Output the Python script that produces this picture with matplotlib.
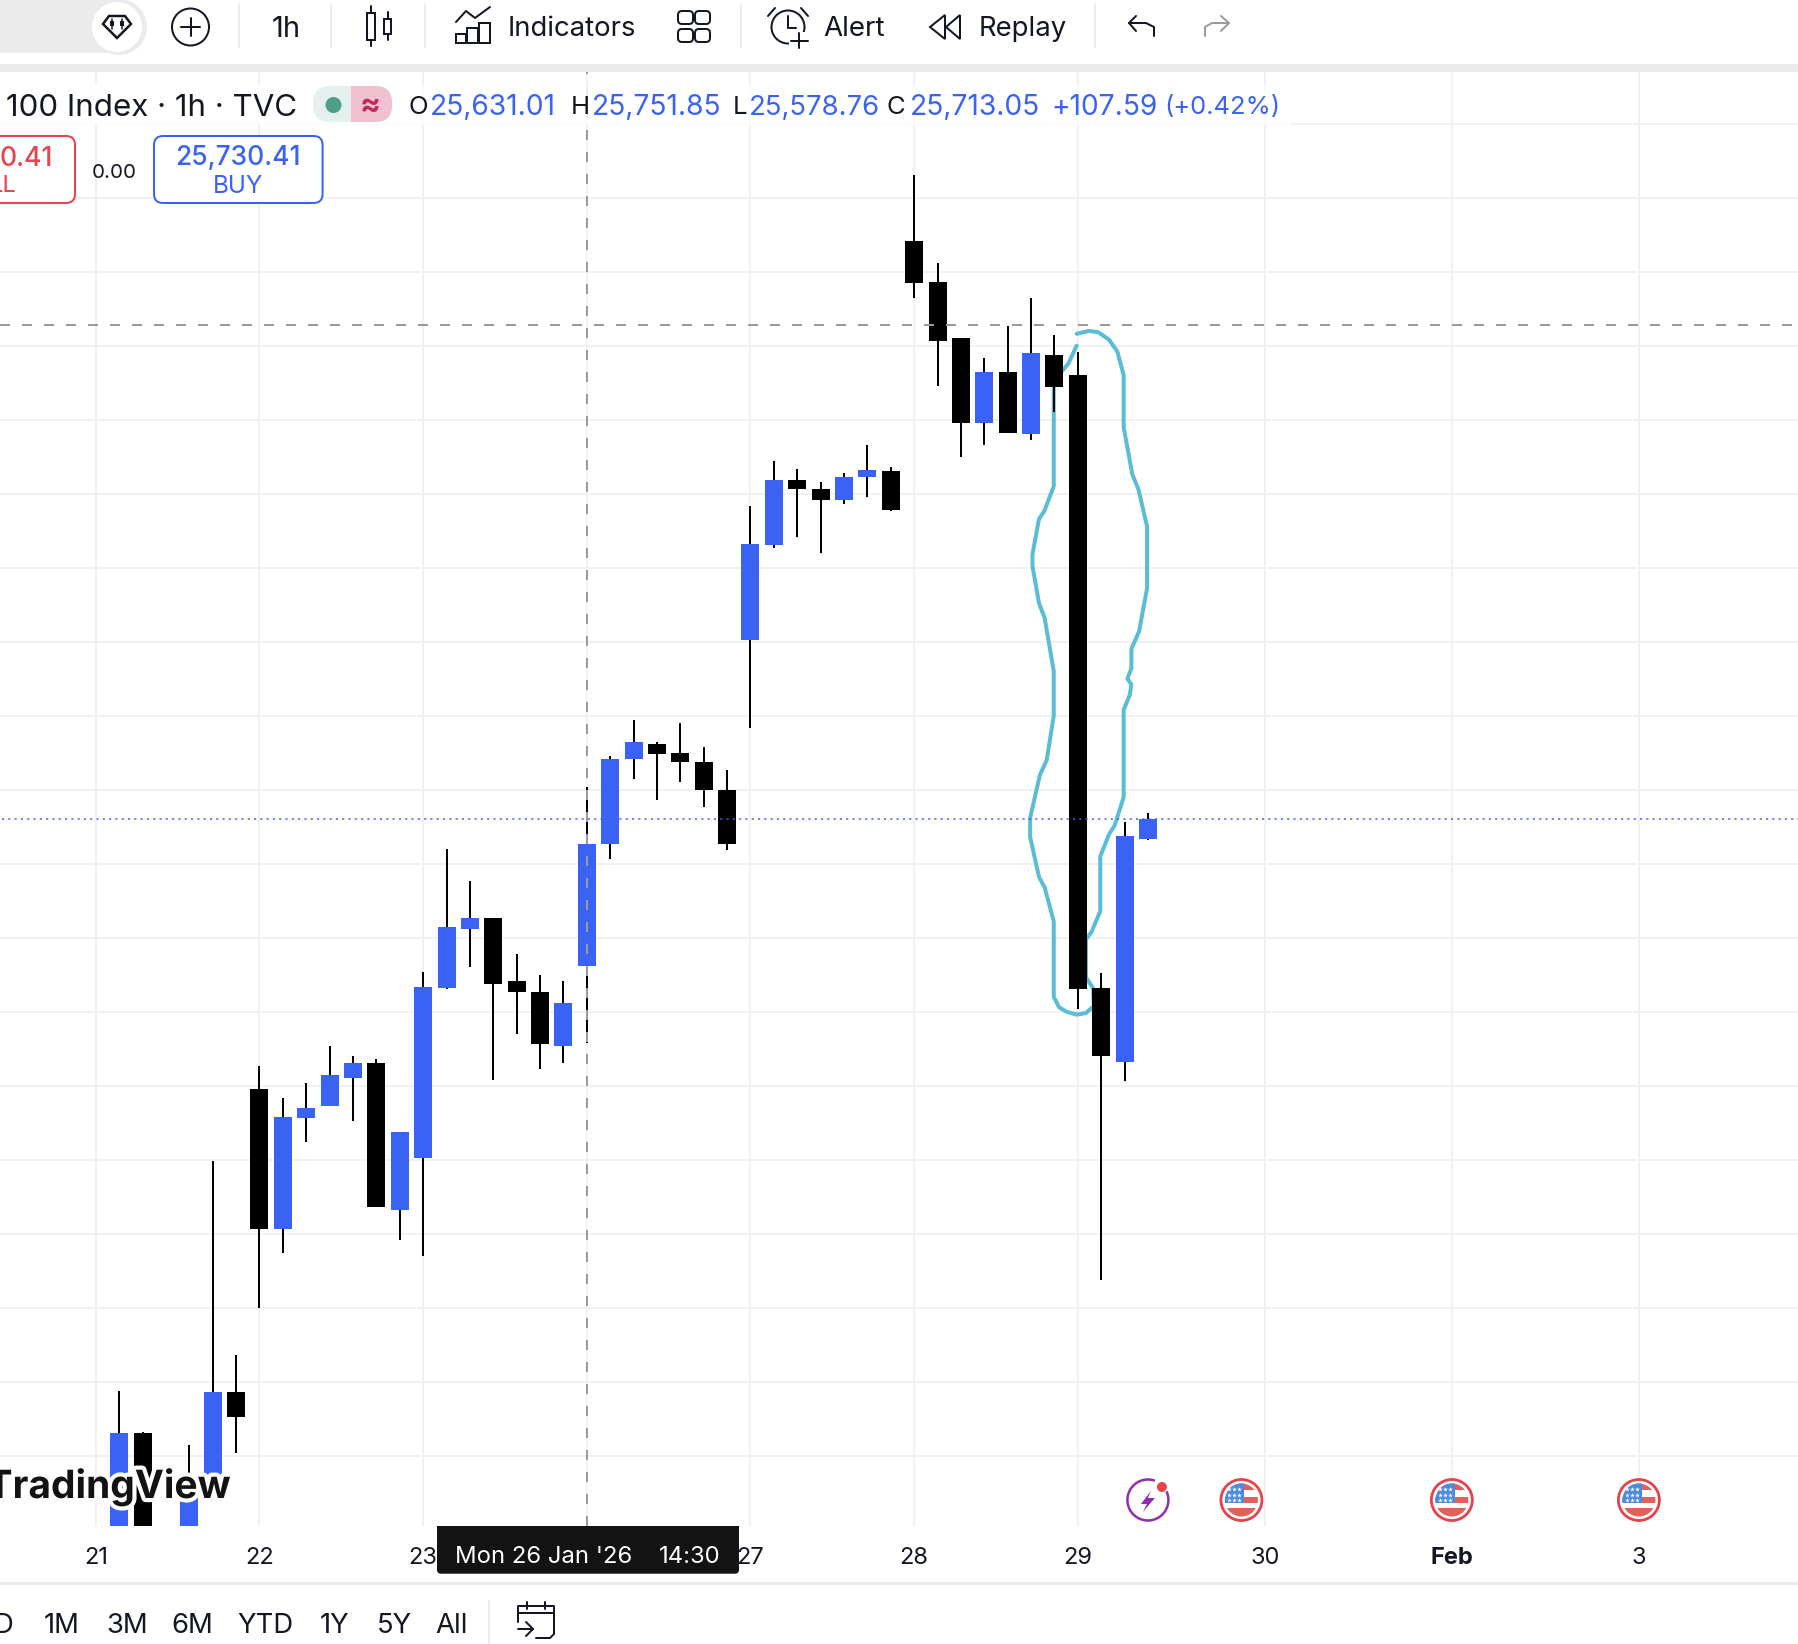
import matplotlib
matplotlib.use("Agg")
import matplotlib.pyplot as plt
import matplotlib.patheffects as pe
from matplotlib.patches import Circle, FancyBboxPatch, Rectangle, Polygon, Arc

plt.rcParams['font.family'] = ['Inter', 'DejaVu Sans']

# candles: bar number, open, high, low, close  (21 Jan is bar 0)
bars = [1, 2, 4, 5, 6, 7, 8, 9, 10, 11, 12, 13, 14, 15, 16, 17, 18, 19, 20, 21, 22, 23,
        24, 25, 26, 27, 28, 29, 30, 31, 32, 33, 34, 35, 36, 37, 38, 39, 40, 41, 42, 43, 44, 45]
opens = [25240, 25315, 25240, 25277, 25343, 25548, 25453, 25528, 25536, 25555, 25565, 25466, 25501, 25616,
         25656, 25663, 25621, 25613, 25577, 25631.01, 25713, 25771, 25781, 25775, 25769, 25750, 25851, 25915,
         25959, 25953, 25946, 25961, 25965, 26121, 26093, 26055, 25998, 26032, 25990, 26044, 26030, 25616,
         25566, 25717]
highs = [25344, 25316, 25307, 25499, 25368, 25563, 25542, 25552, 25577, 25570, 25568, 25519, 25627, 25710,
         25688, 25663, 25639, 25625, 25621, 25751.85, 25773, 25797, 25782, 25795, 25779, 25763, 25942, 25972,
         25967, 25958, 25964, 25983, 25968, 26165, 26106, 26055, 26042, 26063, 26082, 26057, 26046, 25626,
         25728, 25734]
lows = [25230, 25230, 25235, 25277, 25302, 25400, 25437, 25512, 25536, 25526, 25468, 25446, 25435, 25615,
        25630, 25554, 25585, 25561, 25565, 25578.76, 25703, 25757, 25743, 25755, 25738, 25709, 25792, 25913,
        25921, 25910, 25943, 25948, 25938, 26082, 26023, 25975, 25983, 25991, 25986, 26005, 25602, 25419,
        25553, 25716]
closes = [25315, 25240, 25277, 25343, 25326, 25453, 25529, 25535, 25557, 25565, 25468, 25519, 25617, 25657,
          25663, 25619, 25613, 25578, 25606, 25713.05, 25771, 25782, 25774, 25769, 25750, 25713, 25916, 25959,
          25953, 25946, 25961, 25966, 25939, 26092, 26053, 25998, 26032, 25991, 26045, 26022, 25615, 25570,
          25719, 25730.41]

day_bars = [0, 7, 14, 21, 28, 35, 42, 50, 58, 66]
day_labels = ['21', '22', '23', '26', '27', '28', '29', '30', 'Feb', '3']
price_grid = list(range(25300, 26250, 50))

last_price = 25730.41
cross_price = 26064
cross_bar = 21

# hand drawn loop round the big candle
loop_bar = [41.95, 42.48, 42.88, 43.34, 43.69, 43.96, 43.96, 44.33, 44.59, 44.96, 44.96, 44.62, 44.29, 44.29,
            44.12, 44.29, 44.22, 43.96, 43.96, 43.58, 43.34, 42.96, 42.96, 42.59, 42.35, 42.35, 42.65, 42.69,
            42.34, 41.94, 41.51, 41.20, 40.97, 40.97, 40.58, 40.34, 39.96, 39.96, 40.38, 40.67, 40.97, 40.97,
            40.58, 40.34, 40.06, 40.06, 40.34, 40.56, 40.97, 40.97, 41.34, 41.60, 41.95]
loop_price = [26058, 26060, 26059, 26054, 26046, 26030, 25995, 25963, 25953, 25928, 25886, 25857, 25845, 25832,
              25825, 25821, 25814, 25804, 25745, 25726, 25720, 25705, 25668, 25654, 25649, 25623, 25616, 25604,
              25599, 25598, 25600, 25603, 25610, 25661, 25684, 25691, 25718, 25731, 25760, 25770, 25800, 25830,
              25866, 25876, 25901, 25909, 25933, 25938, 25955, 26027, 26033, 26038, 26050]

range_labels = ['D', '1M', '3M', '6M', 'YTD', '1Y', '5Y', 'All']
range_x = [4, 62, 127, 192, 265, 335, 394, 452]
flag_bars = [49, 58, 66]

W, H = 1798, 1644
BLUE = '#3a63f6'
RED = '#e8434f'
px = 0.72  # one pixel in points at dpi 100

fig = plt.figure(figsize=(W / 100, H / 100), dpi=100, facecolor='white')

# chart pane
ax = fig.add_axes([0, (H - 1526) / H, 1, (1526 - 72) / H])
ax.set_xlim(-4.097, 72.8)
ax.set_ylim(25252.5, 26234.9)
for s in ax.spines.values():
    s.set_visible(False)
ax.set_xticks(day_bars)
ax.set_xticklabels(day_labels, fontsize=17, color='#131722')
ax.get_xticklabels()[8].set_fontweight('bold')
ax.set_yticks(price_grid)
ax.set_yticklabels([])
ax.tick_params(length=0)
ax.tick_params(axis='x', pad=15.2)
ax.grid(True, color='#f1f1f1', lw=2 * px)
ax.set_axisbelow(True)

ax.plot(loop_bar, loop_price, color='#5bbcd6', lw=4 * px, zorder=2, solid_joinstyle='round', solid_capstyle='round')

for b, o, h, l, c in zip(bars, opens, highs, lows, closes):
    col = BLUE if c >= o else 'black'
    ax.vlines(b, l, h, color='black', lw=2 * px, zorder=3)
    ax.bar(b, abs(c - o), bottom=min(o, c), width=0.77, color=col, zorder=4)

ax.axhline(last_price, xmin=0.001, color=BLUE, lw=1.5 * px, ls=(0, (1.4, 2.8)), zorder=6)
ax.axhline(cross_price, color='#9b9b9b', lw=2 * px, ls=(0, (5, 6)), zorder=5)
ax.axvline(cross_bar, color='#9b9b9b', lw=2 * px, ls=(0, (5, 6)), zorder=5)

# toolbar, legend and the rest of the interface, in picture pixels
ui = fig.add_axes([0, 0, 1, 1], zorder=5)
ui.set_xlim(0, W)
ui.set_ylim(H, 0)
ui.axis('off')


def bar_x(i):
    return 95.8 + 23.38 * i


def txt(x, y, s, size=18, color='#131722', ha='left', **kw):
    return ui.text(x, y + 2.5, s, fontsize=size, color=color, ha=ha, va='center', **kw)


def ln(xs, ys, color='#131722', lw=2.0):
    ui.plot(xs, ys, color=color, lw=lw * px, solid_capstyle='round', solid_joinstyle='round')


def box(x, y, w, h, r=8, fc='white', ec='none', lw=2.0):
    p = FancyBboxPatch((x + r, y + r), w - 2 * r, h - 2 * r, boxstyle='round,pad=%f' % r, fc=fc, ec=ec, lw=lw * px)
    ui.add_patch(p)
    return p


# top bar
ui.add_patch(Rectangle((0, 0), 120, 53, fc='#ebebeb', ec='none'))
ui.add_patch(Circle((119, 27), 28, fc='#ebebeb', ec='none'))
ui.add_patch(Circle((117, 27), 25, fc='white', ec='none'))
ui.add_patch(Polygon([(103, 24), (109, 16), (125, 16), (131, 24), (117, 38)], closed=True, fc='white', ec='#131722', lw=2.5 * px))
ln([112, 112], [19, 29], lw=1.5)
ln([122, 122], [19, 29], lw=1.5)
ui.add_patch(Rectangle((110, 21), 4, 5, fc='#131722'))
ui.add_patch(Rectangle((120, 21), 4, 5, fc='#131722'))
ui.add_patch(Circle((190.5, 27), 18.5, fc='none', ec='#131722', lw=2 * px))
ln([181, 200], [27, 27])
ln([190.5, 190.5], [18, 36])
for x in [239, 331, 425, 740.5, 1094.7]:
    ln([x, x], [4, 48], color='#e8e8e8', lw=1.5)
txt(286, 27, '1h', 21, ha='center')
# candle icon
ui.add_patch(Rectangle((367, 13), 8, 27, fc='none', ec='#131722', lw=2 * px))
ln([371, 371], [6, 13])
ln([371, 371], [40, 46])
ui.add_patch(Rectangle((384, 19), 7, 15, fc='none', ec='#131722', lw=2 * px))
ln([387.5, 387.5], [12, 19])
ln([387.5, 387.5], [34, 40])
# indicators icon
ln([456, 466, 475, 490], [22, 11, 18, 7])
for x0, y0, w0 in [(456, 34, 10), (467, 28, 11), (479, 23, 11)]:
    ui.add_patch(Rectangle((x0, y0), w0, 43 - y0, fc='none', ec='#131722', lw=2 * px))
txt(508, 27, 'Indicators', 19.8)
for x0 in [678, 695]:
    for y0 in [11, 29]:
        box(x0, y0, 15, 13, r=4, ec='#131722')
# alert icon
ui.add_patch(Circle((788, 27), 16.5, fc='none', ec='#131722', lw=2 * px))
ln([788, 788, 796], [16, 28, 28])
ln([768, 775], [16, 8])
ln([808, 801], [16, 8])
ui.add_patch(Rectangle((789, 32), 20, 18, fc='white', ec='none'))
ln([799, 799], [33, 48])
ln([791, 808], [41, 41])
txt(823, 27, 'Alert', 20)
# replay icon
ui.add_patch(Polygon([(945, 15), (930, 27), (945, 39)], closed=True, fc='white', ec='#131722', lw=2 * px))
ui.add_patch(Polygon([(960, 15), (946, 27), (960, 39)], closed=True, fc='white', ec='#131722', lw=2 * px))
txt(979, 27, 'Replay', 19.8)
# undo / redo
ln([1136, 1129, 1136], [16, 23, 31])
ln([1129, 1146, 1154, 1154], [23, 23, 27, 36])
ln([1221, 1229, 1221], [16, 23, 31], color='#9b9b9b')
ln([1229, 1212, 1205, 1205], [23, 23, 27, 36], color='#9b9b9b')
ui.add_patch(Rectangle((0, 64), W, 8, fc='#ebebeb', ec='none'))

# symbol legend
ui.add_patch(Rectangle((0, 85), 1290, 40, fc='white', ec='none', alpha=0.8))
txt(6, 105, '100 Index · 1h · TVC', 22.5)
box(313, 86, 79, 36, r=17, fc='#e3f0ee')
right = box(313, 86, 79, 36, r=17, fc='#efc0cd')
right.set_clip_path(Rectangle((351, 80), 50, 50, transform=ui.transData))
ui.add_patch(Circle((333.5, 105), 8, fc='#4f9e8a', ec='none'))
txt(370, 103, '≈', 22, color='#c2285f', ha='center', fontweight='bold')
txt(409, 105, 'O', 18.5)
txt(430, 105, '25,631.01', 20.3, color=BLUE)
txt(571, 105, 'H', 18.5)
txt(592, 105, '25,751.85', 20.3, color=BLUE)
txt(733, 105, 'L', 18.5)
txt(749, 105, '25,578.76', 19.8, color=BLUE)
txt(887, 105, 'C', 18.5)
txt(910, 105, '25,713.05', 20.3, color=BLUE)
txt(1051, 105, '+107.59', 20.3, color=BLUE)
txt(1164, 105, '(+0.42%)', 18.4, color=BLUE)

# buy / sell buttons
box(-30, 136, 105, 67, r=9, ec=RED)
txt(53, 156, '0.41', 19, color=RED, ha='right', fontweight='medium')
txt(17, 184, 'LL', 17, color=RED, ha='right')
txt(114, 170, '0.00', 14.8, ha='center')
box(154, 136, 168.6, 67, r=9, ec=BLUE)
txt(238, 156, '25,730.41', 19, color=BLUE, ha='center', fontweight='medium')
txt(238, 184, 'BUY', 17.5, color=BLUE, ha='center')

# watermark over the candles
txt(230, 1484, 'TradingView', 28, color='#131313', ha='right', fontweight='bold',
    path_effects=[pe.withStroke(linewidth=6, foreground='white')])

# event markers
cx = bar_x(45)
ui.add_patch(Arc((cx, 1500), 41, 41, theta1=-25, theta2=290, ec='#8e2fb0', lw=2.5 * px))
ui.add_patch(Polygon([(cx + 3, 1491), (cx - 7, 1504), (cx - 1, 1504), (cx - 5, 1512), (cx + 7, 1498), (cx, 1498)],
                     closed=True, fc='#8e2fb0', ec='none'))
ui.add_patch(Circle((cx + 14, 1487), 5, fc=RED, ec='none'))
for b in flag_bars:
    cx = bar_x(b)
    ui.add_patch(Circle((cx, 1500), 20.5, fc='white', ec='#e5434c', lw=2.8 * px))
    inner = Circle((cx, 1500), 16.5, transform=ui.transData)
    for y0, y1, c in [(-17, -10, '#e0615a'), (-3, 3, '#e0615a'), (8, 17, '#e0615a')]:
        r = ui.add_patch(Rectangle((cx - 17, 1500 + y0), 34, y1 - y0, fc=c, ec='none'))
        r.set_clip_path(inner)
    r = ui.add_patch(Rectangle((cx - 17, 1483), 20, 20, fc='#4a8be0', ec='none'))
    r.set_clip_path(inner)
    for sy in [-11, -5, 0]:
        ui.plot([cx - 12, cx - 7, cx - 2], [1500 + sy] * 3, ls='none', marker='*', ms=3.5, color='white', mew=0)

# time axis tag
ui.add_patch(Rectangle((437, 1526), 302, 30, fc='#131313', ec='none'))
box(437, 1530, 302, 43.7, r=4, fc='#131313')
txt(455, 1554, "Mon 26 Jan '26", 17.2, color='white')
txt(721, 1554, '14:30', 17.2, color='white', ha='right')
ui.add_patch(Rectangle((0, 1582), W, 2.5, fc='#ebebeb', ec='none'))

# range buttons
for x, s in zip(range_x, range_labels):
    txt(x, 1623, s, 19.8, ha='center')
ln([489, 489], [1600, 1644], color='#e8e8e8', lw=1.5)
# calendar icon
ln([518, 518, 554, 554, 550, 536], [1622, 1606, 1606, 1634, 1638, 1638])
ln([518, 554], [1613, 1613])
ln([527, 527], [1602, 1609])
ln([545, 545], [1602, 1609])
ln([518, 533], [1629, 1629])
ln([526, 533, 526], [1622, 1629, 1636])

fig.savefig('out.png', dpi=100, facecolor='white')
